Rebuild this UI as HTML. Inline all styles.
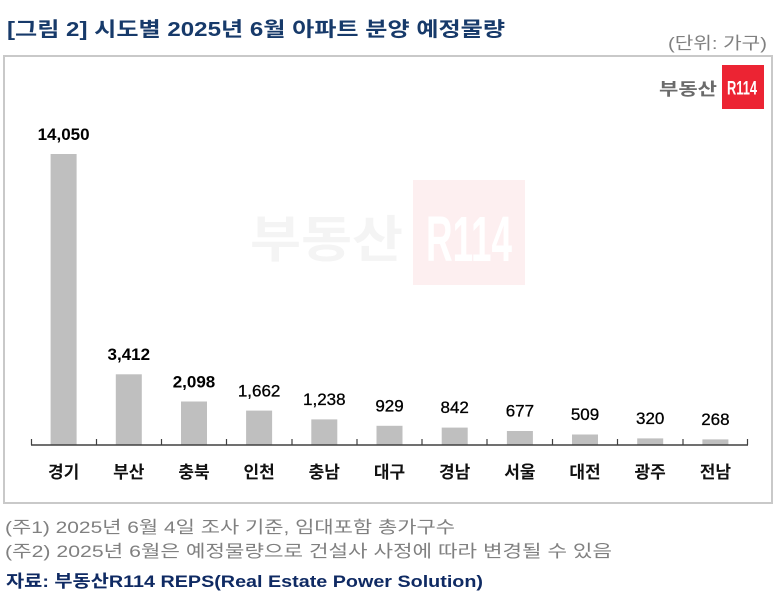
<!DOCTYPE html>
<html>
<head>
<meta charset="utf-8">
<style>
  html,body{margin:0;padding:0;background:#fff;}
  svg{display:block;}
  .kr{font-family:"Liberation Sans","Noto Sans CJK KR","NanumGothic",sans-serif;}
</style>
</head>
<body>
<svg width="779" height="599" viewBox="0 0 779 599" xmlns="http://www.w3.org/2000/svg" class="kr">
  <rect x="0" y="0" width="779" height="599" fill="#ffffff"/>

  <!-- Title -->
  <text x="7" y="36" font-size="20" font-weight="bold" fill="#173a6a" textLength="498" lengthAdjust="spacingAndGlyphs">[그림 2] 시도별 2025년 6월 아파트 분양 예정물량</text>
  <!-- Unit -->
  <text x="668" y="49" font-size="17" fill="#808080" textLength="99" lengthAdjust="spacingAndGlyphs">(단위: 가구)</text>

  <!-- Frame -->
  <rect x="4" y="56" width="768" height="447" fill="#ffffff" stroke="#c9c9c9" stroke-width="2"/>

  <!-- Watermark -->
  <text x="250" y="257" font-size="50" font-weight="bold" fill="#f4f4f4" textLength="153" lengthAdjust="spacingAndGlyphs">부동산</text>
  <rect x="413" y="180" width="112" height="105" fill="#fdeff0"/>
  <text x="426" y="261" font-size="64" font-weight="bold" fill="#ffffff" textLength="86" lengthAdjust="spacingAndGlyphs">R114</text>

  <!-- Logo -->
  <text x="659" y="95" font-size="17" font-weight="bold" fill="#6b6b6b" textLength="58" lengthAdjust="spacingAndGlyphs">부동산</text>
  <rect x="722" y="65" width="42" height="44" fill="#ec2433"/>
  <text x="727" y="94.5" font-size="19" font-weight="bold" fill="#ffffff" textLength="30" lengthAdjust="spacingAndGlyphs">R114</text>

  <!-- Bars -->
  <g fill="#bfbfbf">
    <rect x="50.6" y="154" width="26" height="291"/>
    <rect x="115.8" y="374.3" width="26" height="70.7"/>
    <rect x="181" y="401.5" width="26" height="43.5"/>
    <rect x="246.1" y="410.6" width="26" height="34.4"/>
    <rect x="311.3" y="419.4" width="26" height="25.6"/>
    <rect x="376.5" y="425.8" width="26" height="19.2"/>
    <rect x="441.7" y="427.6" width="26" height="17.4"/>
    <rect x="506.9" y="431" width="26" height="14"/>
    <rect x="572" y="434.5" width="26" height="10.5"/>
    <rect x="637.2" y="438.4" width="26" height="6.6"/>
    <rect x="702.4" y="439.4" width="26" height="5.6"/>
  </g>

  <!-- Axis -->
  <line x1="31" y1="445" x2="748" y2="445" stroke="#404040" stroke-width="1.5"/>
  <g stroke="#404040" stroke-width="1.2">
    <line x1="31.5" y1="439" x2="31.5" y2="445"/>
    <line x1="96.5" y1="439" x2="96.5" y2="445"/>
    <line x1="161.5" y1="439" x2="161.5" y2="445"/>
    <line x1="226.5" y1="439" x2="226.5" y2="445"/>
    <line x1="292" y1="439" x2="292" y2="445"/>
    <line x1="357" y1="439" x2="357" y2="445"/>
    <line x1="422" y1="439" x2="422" y2="445"/>
    <line x1="487" y1="439" x2="487" y2="445"/>
    <line x1="552.5" y1="439" x2="552.5" y2="445"/>
    <line x1="617.5" y1="439" x2="617.5" y2="445"/>
    <line x1="683" y1="439" x2="683" y2="445"/>
    <line x1="747.5" y1="439" x2="747.5" y2="445"/>
  </g>

  <!-- Value labels -->
  <g font-size="17" fill="#000000" text-anchor="middle">
    <text x="63.6" y="140" font-weight="bold">14,050</text>
    <text x="128.8" y="360" font-weight="bold">3,412</text>
    <text x="194" y="387.5" font-weight="bold">2,098</text>
    <text x="259.1" y="396.5" stroke="#000" stroke-width="0.3">1,662</text>
    <text x="324.3" y="405" stroke="#000" stroke-width="0.3">1,238</text>
    <text x="389.5" y="411.5" stroke="#000" stroke-width="0.3">929</text>
    <text x="454.7" y="413" stroke="#000" stroke-width="0.3">842</text>
    <text x="519.9" y="416.5" stroke="#000" stroke-width="0.3">677</text>
    <text x="585" y="420" stroke="#000" stroke-width="0.3">509</text>
    <text x="650.2" y="424" stroke="#000" stroke-width="0.3">320</text>
    <text x="715.4" y="425" stroke="#000" stroke-width="0.3">268</text>
  </g>

  <!-- Category labels -->
  <g font-size="17" font-weight="bold" fill="#111111" text-anchor="middle">
    <text x="63.6" y="478">경기</text>
    <text x="128.8" y="478">부산</text>
    <text x="194" y="478">충북</text>
    <text x="259.1" y="478">인천</text>
    <text x="324.3" y="478">충남</text>
    <text x="389.5" y="478">대구</text>
    <text x="454.7" y="478">경남</text>
    <text x="519.9" y="478">서울</text>
    <text x="585" y="478">대전</text>
    <text x="650.2" y="478">광주</text>
    <text x="715.4" y="478">전남</text>
  </g>

  <!-- Footnotes -->
  <text x="5" y="533" font-size="17" fill="#808080" textLength="450" lengthAdjust="spacingAndGlyphs">(주1) 2025년 6월 4일 조사 기준, 임대포함 총가구수</text>
  <text x="5" y="557" font-size="17" fill="#808080" textLength="607" lengthAdjust="spacingAndGlyphs">(주2) 2025년 6월은 예정물량으로 건설사 사정에 따라 변경될 수 있음</text>
  <text x="6" y="587" font-size="17" font-weight="bold" fill="#0f2a63" textLength="477" lengthAdjust="spacingAndGlyphs">자료: 부동산R114 REPS(Real Estate Power Solution)</text>
</svg>
</body>
</html>
